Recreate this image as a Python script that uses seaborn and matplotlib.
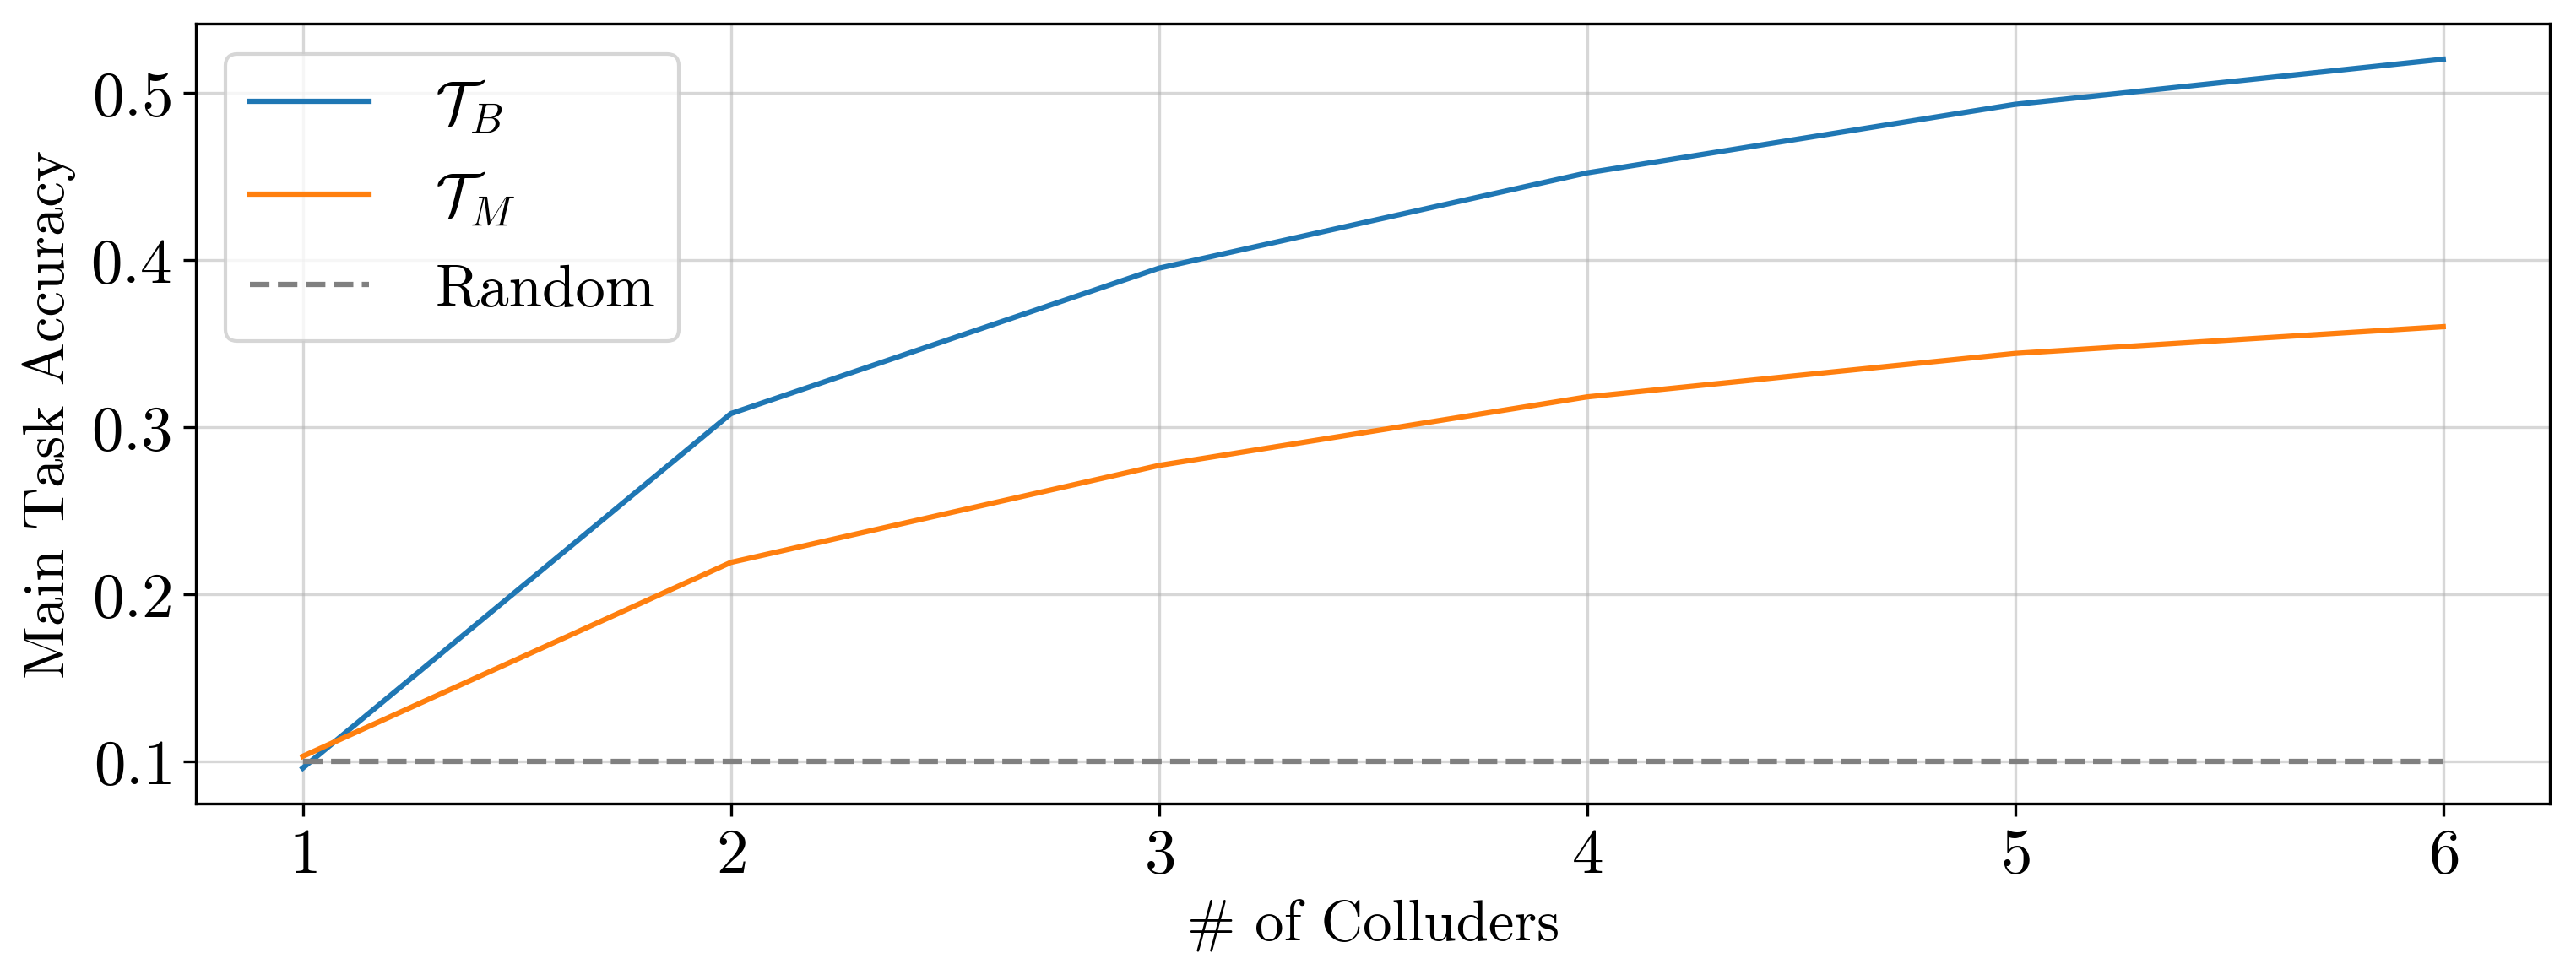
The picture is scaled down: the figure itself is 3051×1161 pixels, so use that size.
import pandas as pd
import matplotlib
matplotlib.use('Agg')
import matplotlib.pyplot as plt
import seaborn as sns

# Computer Modern look without LaTeX
plt.rcParams['font.family'] = 'serif'
plt.rcParams['font.serif'] = ['cmr10']
plt.rcParams['mathtext.fontset'] = 'cm'
plt.rcParams['axes.formatter.use_mathtext'] = True
plt.rcParams['font.size'] = 18

# Values
colluders = [1, 2, 3, 4, 5, 6]
acc_b = [0.096, 0.308, 0.395, 0.452, 0.493, 0.520]
acc_m = [0.103, 0.219, 0.277, 0.318, 0.344, 0.360]
random_acc = [0.1, 0.1, 0.1, 0.1, 0.1, 0.1]

df = pd.DataFrame({'Colluders': colluders, 'TB': acc_b, 'TM': acc_m, 'Random': random_acc})

fig, ax = plt.subplots(figsize=(10.17, 3.873), dpi=300)
sns.lineplot(data=df, x='Colluders', y='TB', color='#1f77b4', linewidth=1.5,
             label=r'$\mathcal{T}_B$', ax=ax)
sns.lineplot(data=df, x='Colluders', y='TM', color='#ff7f0e', linewidth=1.5,
             label=r'$\mathcal{T}_M$', ax=ax)
sns.lineplot(data=df, x='Colluders', y='Random', color='gray', linewidth=1.5,
             linestyle='--', label='Random', ax=ax)

ax.set_xlabel('# of Colluders', fontsize=16.5)
ax.set_ylabel('Main Task Accuracy', fontsize=16.5)
ax.set_xticks(colluders)
ax.set_yticks([0.1, 0.2, 0.3, 0.4, 0.5])
ax.tick_params(labelsize=18)
ax.grid(True, alpha=0.5)
ax.legend(loc='upper left', fontsize=17, labelspacing=0.6, handletextpad=1.1)

plt.subplots_adjust(left=0.076, right=0.99, top=0.975, bottom=0.18)
plt.savefig('out.png', dpi=300)
